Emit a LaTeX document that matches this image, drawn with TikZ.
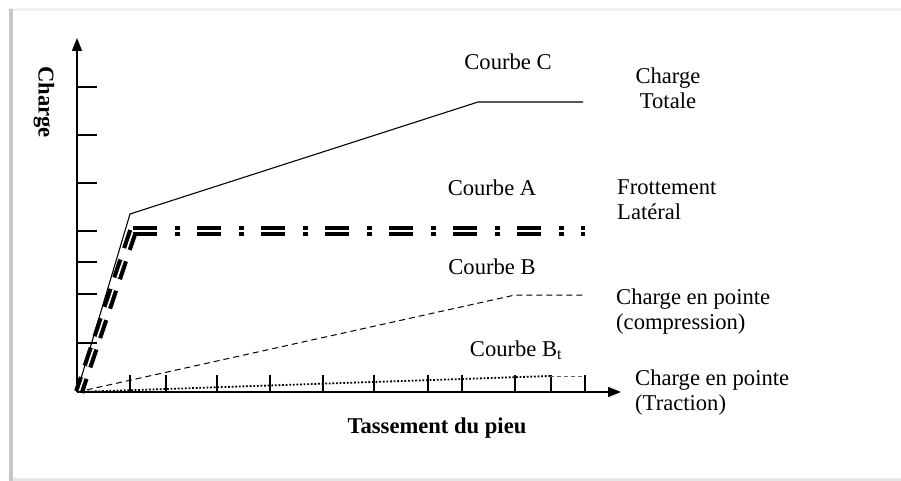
\documentclass[tikz,border=0pt]{standalone}
\usepackage{fontspec}
\setmainfont{Liberation Serif}
\usetikzlibrary{arrows.meta}
\tikzset{
  lbl/.style={font=\fontsize{22.6}{25}\selectfont, inner sep=0pt, align=center},
  lbll/.style={font=\fontsize{22.6}{25}\selectfont, inner sep=0pt, align=left, anchor=west},
  axis/.style={line width=1.3pt, -{Triangle[length=13pt,width=10pt]}},
  tickln/.style={line width=1.3pt},
  curveC/.style={line width=1.1pt},
  dbl/.style={line width=4.2pt, double=white, double distance=1.6pt},
  curveArise/.style={dbl, dash pattern=on 19pt off 12pt},
  curveAflat/.style={dbl, dash pattern=on 24pt off 18pt on 5pt off 17pt},
  curveB/.style={line width=1pt, dash pattern=on 6pt off 4pt},
  curveBt/.style={line width=1.8pt, dash pattern=on 1.8pt off 1.8pt},
}
\begin{document}
\begin{tikzpicture}[x=1pt,y=-1pt]
\useasboundingbox (0,0) rectangle (901,481);
% frame
\fill[black!6] (8,8) rectangle (901,11);
\fill[black!22] (9,9) rectangle (13,481);
\fill[white] (13,11) rectangle (901,478);
\fill[black!10] (13,478) rectangle (901,481);

% axes
\coordinate (O) at (77,392);
\coordinate (Ytop) at (77,38);
\coordinate (Xend) at (621,392);
\draw[axis] (O) -- (Ytop);
\draw[axis] (O) -- (Xend);

% y ticks
\foreach \y in {87,135,183,231,262,294,343}
  \draw[tickln] (77,\y) -- (97,\y);
% x ticks
\foreach \x in {130,166,217,270,323,374,428,462,515,551,585}
  \draw[tickln] (\x,392) -- (\x,375);

% curve C
\coordinate (C1) at (130,214);
\coordinate (C2) at (478,102);
\coordinate (C3) at (583,102);
\draw[curveC] (O) -- (C1) -- (C2) -- (C3);

% curve A
\coordinate (A0) at (79,392);
\coordinate (A1) at (133,231);
\coordinate (A2) at (585,231);
\draw[curveArise] (A1) -- (A0);
\draw[curveAflat] (A1) -- (A2);

% curve B
\coordinate (B1) at (515,295);
\coordinate (B2) at (585,295);
\draw[curveB] (O) -- (B1) -- (B2);

% curve Bt
\coordinate (T1) at (550,376);
\coordinate (T2) at (585,376);
\draw[curveBt] (O) -- (T1);
\draw[black!60, line width=0.8pt, dash pattern=on 4pt off 3pt] (T1) -- (T2);

% labels
\node[lbl, font=\fontsize{22.6}{25}\selectfont\bfseries, rotate=-90] (ylab) at (44,102) {Charge};
\node[lbl, font=\fontsize{22.6}{25}\selectfont\bfseries] (xlab) at (437,428) {Tassement du pieu};
\node[lbl] (lC) at (508,62) {Courbe C};
\node[lbl] (lA) at (492,188) {Courbe A};
\node[lbl] (lB) at (492,267) {Courbe B};
\node[lbl] (lBt) at (516,350) {Courbe B\textsubscript{t}};
\node[lbl] (tot) at (668,88) {Charge\\Totale};
\node[lbll] (frot) at (617,200) {Frottement\\Latéral};
\node[lbll] (comp) at (616,312) {Charge en pointe\\(compression)};
\node[lbll] (trac) at (635,393) {Charge en pointe\\(Traction)};
\end{tikzpicture}
\end{document}
